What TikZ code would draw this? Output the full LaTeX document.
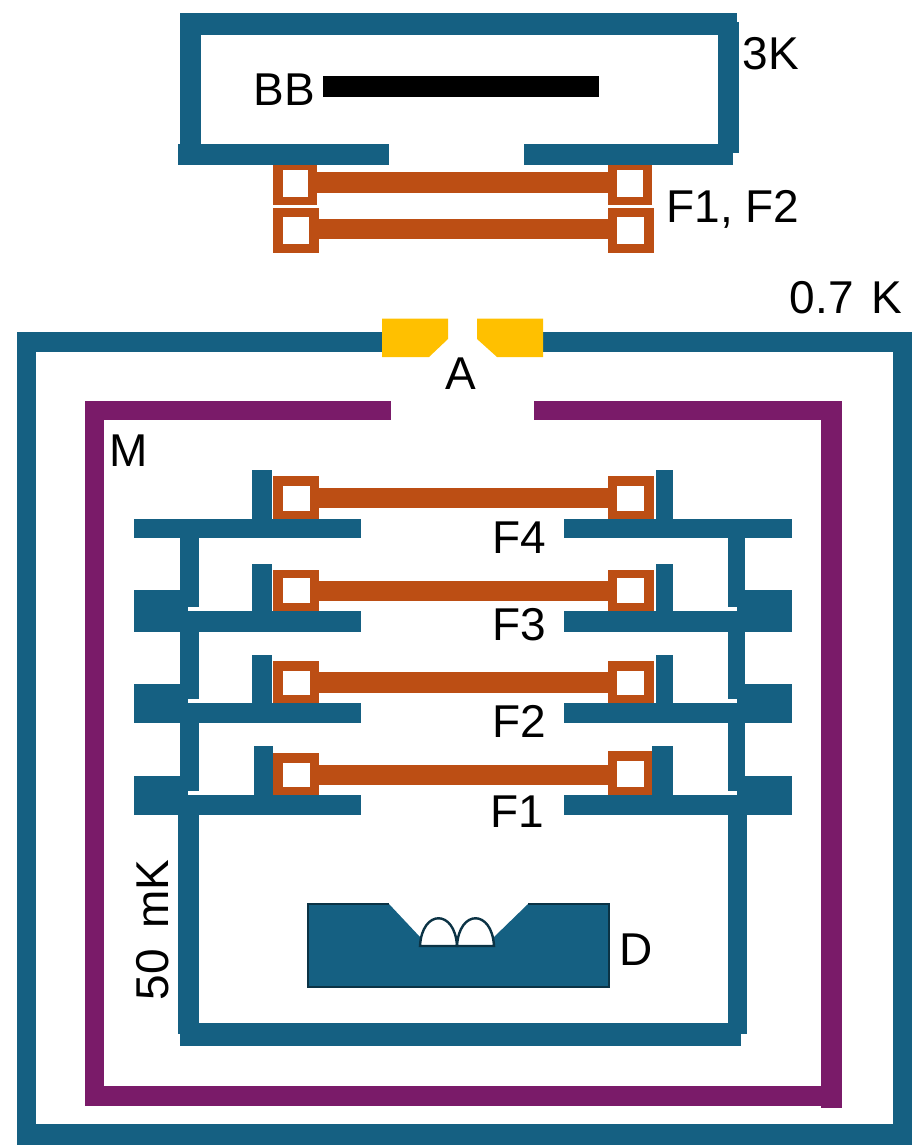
\documentclass[tikz,border=0pt]{standalone}
\usepackage{fontspec}
\setmainfont{Liberation Sans}
\definecolor{shieldblue}{HTML}{156082}
\definecolor{filterorange}{HTML}{BC4E14}
\definecolor{magplum}{HTML}{7A1B69}
\definecolor{aperturegold}{HTML}{FFC000}
\definecolor{detectordark}{HTML}{0B3345}
\tikzset{
  shield/.style={fill=shieldblue},
  filt/.style={fill=filterorange},
  hole/.style={fill=white},
  mag/.style={fill=magplum},
  aperture/.style={fill=aperturegold},
  lab/.style={anchor=base,inner sep=0pt,font=\fontsize{46}{54}\selectfont}
}
\begin{document}
\begin{tikzpicture}[x=1pt,y=-1pt]
\useasboundingbox (0,0) rectangle (912,1145);

% filters above the 3K box
\fill[filt] (273,160) rectangle (317,205);
\fill[hole] (283,170) rectangle (308,197);
\fill[filt] (608,160) rectangle (652,205);
\fill[hole] (617,170) rectangle (643,197);
\fill[filt] (317,172) rectangle (608,193);
\fill[filt] (273,207.5) rectangle (319,253);
\fill[hole] (283,217) rectangle (309,244);
\fill[filt] (608,207.5) rectangle (654,253);
\fill[hole] (617,217) rectangle (644,244);
\fill[filt] (319,219) rectangle (608,239);

% 3K box
\fill[shield] (180,13) rectangle (737,35);
\fill[shield] (180,13) rectangle (201,150);
\fill[shield] (718,22) rectangle (739,153);
\fill[shield] (178,143.5) rectangle (389,164.5);
\fill[shield] (524,143.5) rectangle (733,164.5);
\fill (323,76) rectangle (599,97);

% 0.7 K box
\fill[shield] (17,332) rectangle (382,352);
\fill[shield] (543,332) rectangle (912,352);
\fill[shield] (17,332) rectangle (36,1145);
\fill[shield] (893,332) rectangle (912,1145);
\fill[shield] (17,1124) rectangle (912,1145);
\fill[aperture] (382,318.5) -- (448,318.5) -- (448,339) -- (429,357) -- (382,357) -- cycle;
\fill[aperture] (477,318.5) -- (543,318.5) -- (543,357) -- (497,357) -- (477,339) -- cycle;

% magnetic shield
\fill[mag] (85,401) rectangle (391,420);
\fill[mag] (534,401) rectangle (842,420);
\fill[mag] (85,401) rectangle (104,1106);
\fill[mag] (821,401) rectangle (842,1108);
\fill[mag] (85,1086) rectangle (842,1106);

% filter stack
\fill[filt] (273,476) rectangle (319,520);
\fill[hole] (283,486) rectangle (310,511);
\fill[filt] (608,476) rectangle (654,520);
\fill[hole] (617,486) rectangle (644,511);
\fill[filt] (319,488) rectangle (608,508);

\fill[filt] (273,570) rectangle (319,613);
\fill[hole] (283,578) rectangle (310,603);
\fill[filt] (608,570) rectangle (654,613);
\fill[hole] (617,578) rectangle (644,603);
\fill[filt] (319,581) rectangle (608,601);

\fill[filt] (273,661) rectangle (319,705);
\fill[hole] (283,671) rectangle (310,695);
\fill[filt] (608,661) rectangle (654,705);
\fill[hole] (617,671) rectangle (644,695);
\fill[filt] (319,672) rectangle (608,693);

\fill[filt] (273,753) rectangle (319,797);
\fill[hole] (283,763) rectangle (310,787);
\fill[filt] (608,751) rectangle (652,797);
\fill[hole] (617,761) rectangle (644,787);
\fill[filt] (319,765) rectangle (608,785);

% shelves and posts
\fill[shield] (134,519) rectangle (361,538);
\fill[shield] (564,519) rectangle (792,538);
\fill[shield] (252,470) rectangle (272,519);
\fill[shield] (656,470) rectangle (673,519);
\fill[shield] (180,538) rectangle (199,607);
\fill[shield] (728,538) rectangle (745,607);

\fill[shield] (134,611) rectangle (361,632);
\fill[shield] (564,611) rectangle (792,632);
\fill[shield] (134,590) rectangle (188,632);
\fill[shield] (737,590) rectangle (792,632);
\fill[shield] (252,564) rectangle (272,611);
\fill[shield] (656,564) rectangle (673,611);
\fill[shield] (180,632) rectangle (199,699);
\fill[shield] (728,632) rectangle (745,699);

\fill[shield] (134,703) rectangle (361,723);
\fill[shield] (564,703) rectangle (792,723);
\fill[shield] (134,684) rectangle (188,723);
\fill[shield] (737,684) rectangle (792,723);
\fill[shield] (252,655) rectangle (272,703);
\fill[shield] (656,655) rectangle (673,703);
\fill[shield] (180,723) rectangle (199,791);
\fill[shield] (728,723) rectangle (745,791);

\fill[shield] (134,795) rectangle (361,815);
\fill[shield] (564,795) rectangle (792,815);
\fill[shield] (134,776) rectangle (188,815);
\fill[shield] (737,776) rectangle (792,815);
\fill[shield] (254,746) rectangle (273,795);
\fill[shield] (652,746) rectangle (673,795);

% 50 mK box
\fill[shield] (178,815) rectangle (199,1034);
\fill[shield] (728,815) rectangle (747,1034);
\fill[shield] (180,1023) rectangle (741,1046);

% detector
\fill[shield] (308,904) -- (389,904) -- (420,937) -- (420,946) -- (494,946) -- (494,937) -- (528,904) -- (609,904) -- (609,987) -- (308,987) -- cycle;
\draw[detectordark,line width=1.8pt] (389,904) -- (308,904) -- (308,987) -- (609,987) -- (609,904) -- (528,904);
\draw[detectordark,line width=2.4pt,fill=white] (420,946) .. controls (422,909) and (455,909) .. (457,946) -- cycle;
\draw[detectordark,line width=2.4pt,fill=white] (457,946) .. controls (459,909) and (492,909) .. (494,946) -- cycle;

\node (BB) at (284,106) [lab] {BB};
\node (threeK) at (771,70) [lab] {3K};
\node (FF) at (733,222) [lab] {F1, F2};
\node (sevenK) at (846,313) [lab] {0.7\hspace{5pt} K};
\node (A) at (461,389) [lab] {A};
\node (M) at (129,466) [lab] {M};
\node (Ffour) at (519,553) [lab] {F4};
\node (Fthree) at (519,640) [lab] {F3};
\node (Ftwo) at (519,737) [lab] {F2};
\node (Fone) at (517,827) [lab] {F1};
\node (D) at (636,965) [lab] {D};
\node (fiftymK) at (168,930) [lab,rotate=90] {50\hspace{8pt} mK};
\end{tikzpicture}
\end{document}
